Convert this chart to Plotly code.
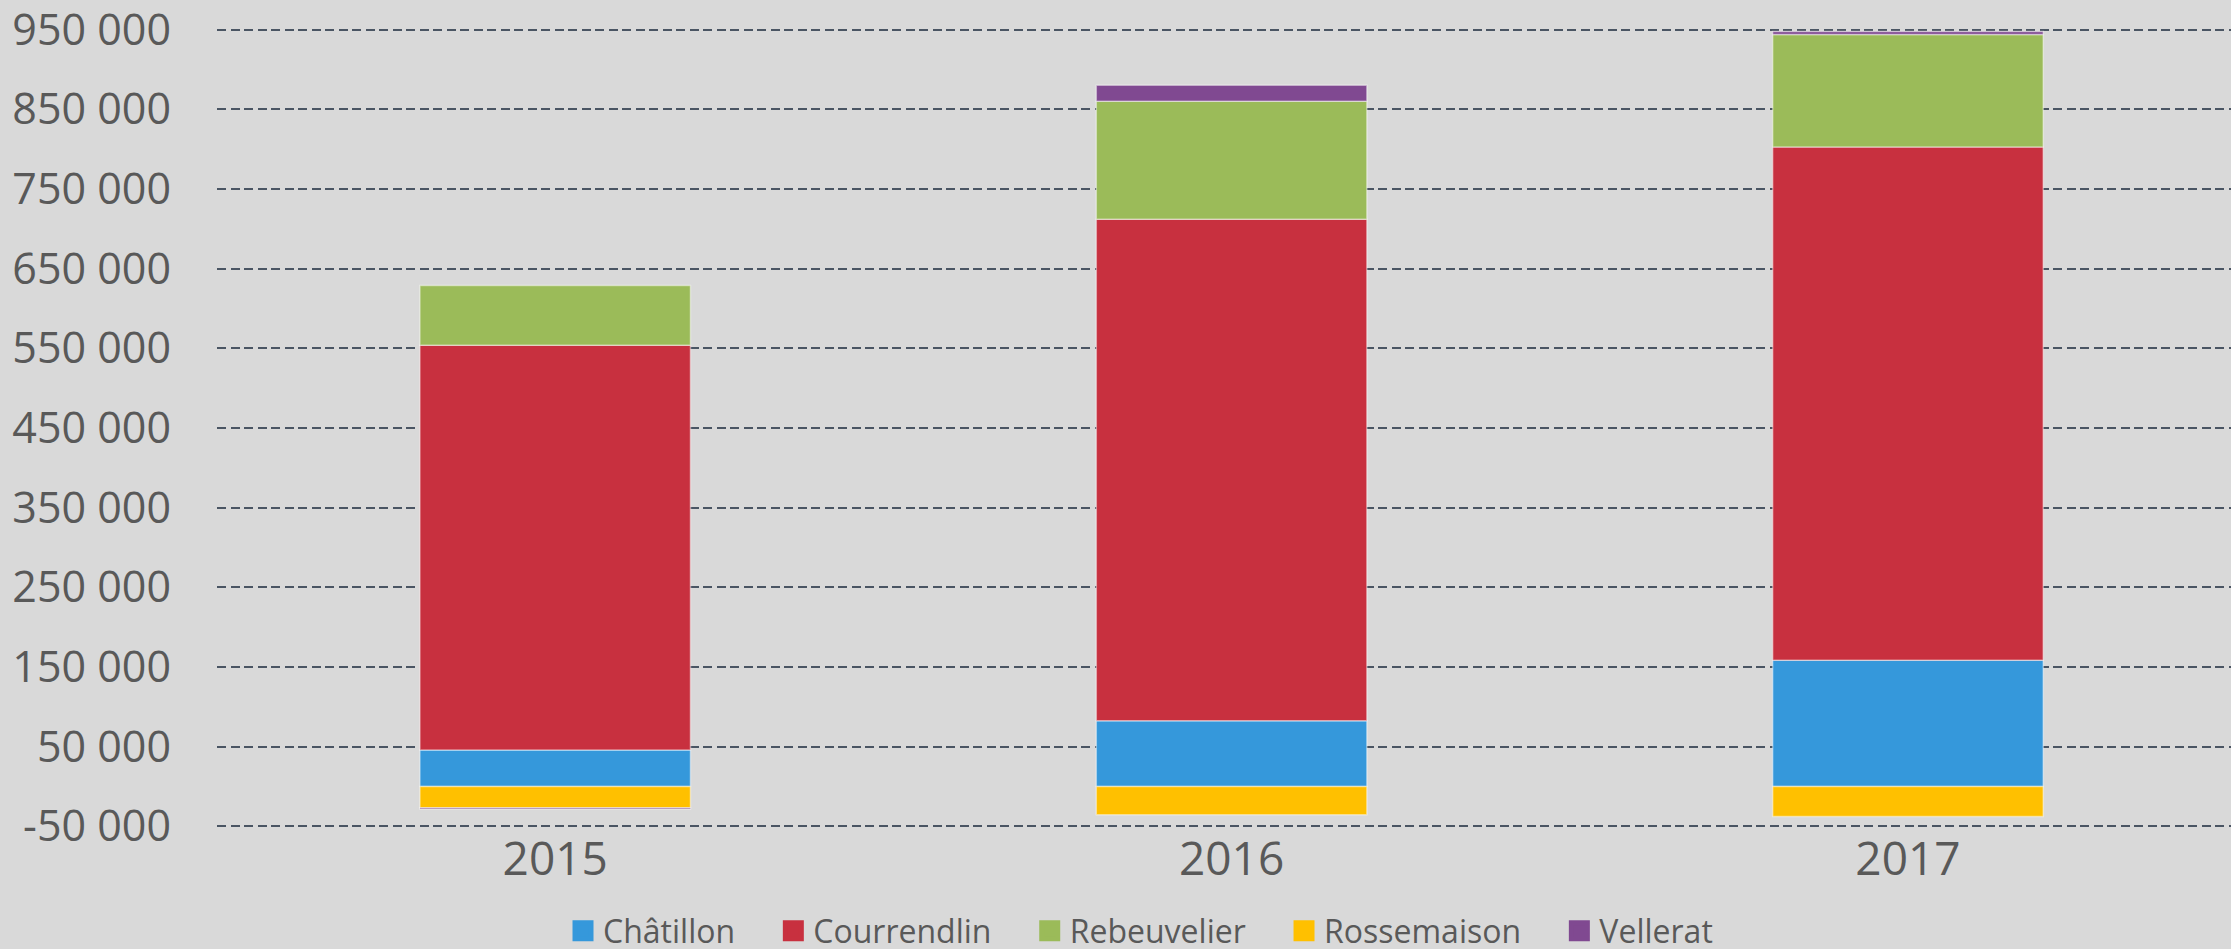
import plotly.graph_objects as go

years = ["2015", "2016", "2017"]
chatillon = [45800, 82500, 158600]
courrendlin = [508200, 629500, 644100]
rebeuvelier = [74900, 148000, 141000]
rossemaison = [-26600, -35400, -37500]
vellerat = [-1500, 20000, 4000]

series_names = ["Châtillon", "Courrendlin", "Rebeuvelier", "Rossemaison", "Vellerat"]
series_values = [chatillon, courrendlin, rebeuvelier, rossemaison, vellerat]
colors = ["#3598DB", "#C8303F", "#9BBB59", "#FFC000", "#804991"]

tick_vals = [-50000, 50000, 150000, 250000, 350000, 450000, 550000, 650000, 750000, 850000, 950000]
tick_text = ["-50 000", "50 000", "150 000", "250 000", "350 000", "450 000",
             "550 000", "650 000", "750 000", "850 000", "950 000"]

fig = go.Figure()
for name, vals, col in zip(series_names, series_values, colors):
    fig.add_trace(go.Bar(
        x=years, y=vals, name=name, showlegend=False,
        marker=dict(color=col, line=dict(color="rgba(255,255,255,0.45)", width=1.5)),
    ))
# legend entries (bigger square symbols)
for i, (name, col) in enumerate(zip(series_names, colors)):
    label = name + ("\u00a0" * 4 if i < len(series_names) - 1 else "")
    fig.add_trace(go.Scatter(
        x=[None], y=[None], mode="markers", name=label,
        marker=dict(symbol="square", size=16, color=col, line=dict(color=col, width=5)),
    ))

fig.update_layout(
    width=2231, height=949,
    barmode="relative", bargap=0.6,
    paper_bgcolor="#D9D9D9", plot_bgcolor="#D9D9D9",
    margin=dict(l=217, r=0, t=28, b=121),
    font=dict(family="Open Sans", color="#595959"),
    showlegend=True,
    legend=dict(
        orientation="h", xref="paper", x=0.1718, xanchor="left",
        yref="container", y=0.019, yanchor="middle",
        font=dict(size=32, color="#595959", family="Open Sans"),
        bgcolor="rgba(0,0,0,0)", traceorder="normal",
    ),
)
fig.update_xaxes(
    type="category", range=[-0.5, 2.4776], showgrid=False, zeroline=False,
    showline=False, ticks="", tickfont=dict(size=46, color="#595959"),
)
fig.update_yaxes(
    range=[-52000, 952000], tickvals=tick_vals, ticktext=tick_text,
    showgrid=True, gridcolor="#4A5563", gridwidth=2, griddash="9px,4.5px",
    zeroline=False, showline=False, ticks="", ticklabelstandoff=45,
    ticklabeloverflow="allow",
    tickfont=dict(size=43, color="#595959"),
)

fig.write_html(
    "out.html",
    config={"displayModeBar": False},
    post_script="document.body.style.margin='0';document.body.style.overflow='hidden';",
)
